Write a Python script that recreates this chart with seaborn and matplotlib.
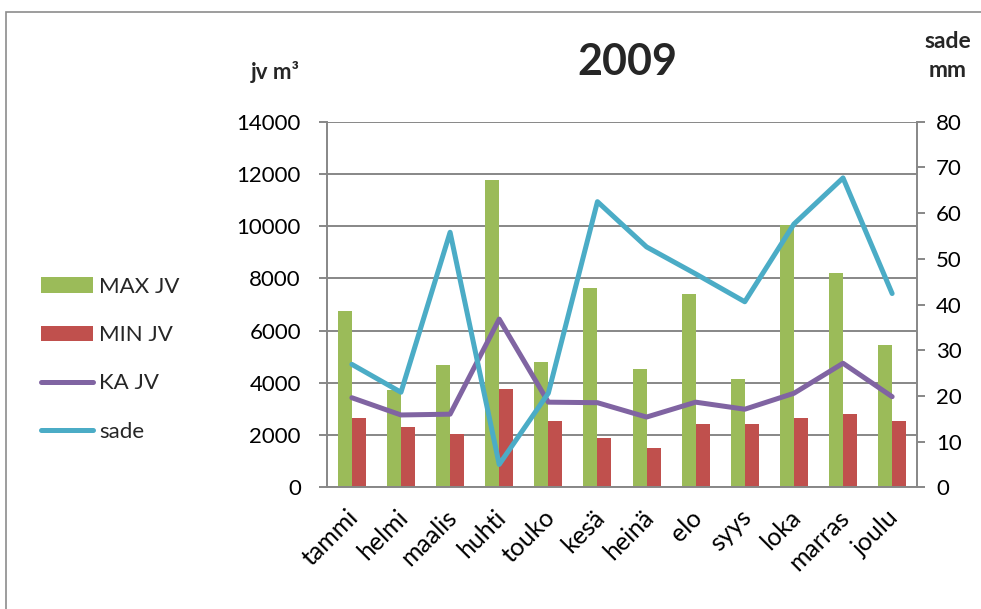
import numpy as np
import pandas as pd
import matplotlib
matplotlib.use("Agg")
import matplotlib.pyplot as plt
import matplotlib.transforms as mtransforms
import seaborn as sns
from matplotlib.patches import Rectangle, Patch
from matplotlib.lines import Line2D

months = ["tammi", "helmi", "maalis", "huhti", "touko", "kesä",
          "heinä", "elo", "syys", "loka", "marras", "joulu"]
max_jv = [6740, 3730, 4680, 11760, 4790, 7630, 4540, 7400, 4140, 10030, 8200, 5440]
min_jv = [2640, 2320, 2030, 3760, 2540, 1880, 1520, 2420, 2420, 2640, 2810, 2540]
ka_jv = [3430, 2770, 2800, 6440, 3260, 3240, 2690, 3260, 2990, 3600, 4750, 3470]
sade = [26.9, 20.8, 55.8, 5.0, 20.6, 62.5, 52.6, 46.7, 40.6, 57.6, 67.7, 42.4]
left_ticks = list(range(0, 14001, 2000))
right_ticks = list(range(0, 81, 10))

sns.set_theme(style="white")
plt.rcParams["font.family"] = ["Lato", "DejaVu Sans"]

GREEN = "#9BBB59"
RED = "#C0504D"
PURPLE = "#8064A2"
BLUE = "#4BACC6"
GRID = "#878787"
FS = 16
W, H = 981, 609

fig = plt.figure(figsize=(W / 100, H / 100), dpi=100)
ax = fig.add_axes([327.3 / W, 1 - 487.3 / H, (916.7 - 327.3) / W, 365.6 / H])

bars = pd.DataFrame({
    "kk": months * 2,
    "arvo": max_jv + min_jv,
    "sarja": ["MAX JV"] * 12 + ["MIN JV"] * 12,
})
sns.barplot(data=bars, x="kk", y="arvo", hue="sarja", order=months,
            hue_order=["MAX JV", "MIN JV"], palette=[GREEN, RED],
            width=0.57, linewidth=0, saturation=1, legend=False,
            ax=ax, zorder=2)

xpos = np.arange(len(months))
sns.lineplot(x=xpos, y=ka_jv, color=PURPLE, lw=3.6, ax=ax, zorder=3,
             solid_capstyle="round", solid_joinstyle="round")

ax.set_xlim(-0.5, 11.5)
ax.set_ylim(0, 14000)
ax.set_yticks(left_ticks)
ax.set_yticklabels([str(t) for t in left_ticks])
ax.grid(axis="y", color=GRID, lw=1.4)
ax.grid(axis="x", visible=False)
ax.set_axisbelow(True)
ax.set_xlabel("")
ax.set_ylabel("")

ax.set_xticks(xpos)
ax.set_xticklabels(months, rotation=45, ha="right", va="center",
                   rotation_mode="anchor")
ax.set_xticks(np.arange(-0.5, 12, 1), minor=True)
ax.tick_params(axis="x", which="major", length=0, pad=19, labelsize=18,
               labelcolor="black")
ax.tick_params(axis="x", which="minor", length=6, width=1.4, color=GRID,
               direction="out")
ax.tick_params(axis="y", length=6, width=1.4, color=GRID, direction="out",
               labelsize=FS, labelcolor="black", pad=13, left=True)
# nudge the slanted month names a little to the right
shift = mtransforms.ScaledTranslation(3 / 100, 0, fig.dpi_scale_trans)
for lab in ax.get_xticklabels():
    lab.set_transform(lab.get_transform() + shift)

for s in ["top", "right"]:
    ax.spines[s].set_visible(False)
for s in ["left", "bottom"]:
    ax.spines[s].set_color(GRID)
    ax.spines[s].set_linewidth(1.4)

ax2 = ax.twinx()
sns.lineplot(x=xpos, y=sade, color=BLUE, lw=3.6, ax=ax2, zorder=4,
             solid_capstyle="round", solid_joinstyle="round")
ax2.set_ylim(0, 80)
ax2.set_yticks(right_ticks)
ax2.set_yticklabels([str(t) for t in right_ticks])
ax2.grid(False)
ax2.set_ylabel("")
ax2.tick_params(axis="y", length=6, width=1.4, color=GRID, direction="out",
                labelsize=FS, labelcolor="black", pad=8, right=True)
for s in ["top", "left", "bottom"]:
    ax2.spines[s].set_visible(False)
ax2.spines["right"].set_color(GRID)
ax2.spines["right"].set_linewidth(1.4)

fig.text(627 / W, 1 - 62 / H, "2009", fontsize=31, fontweight="bold",
         ha="center", va="center")
fig.text(275 / W, 1 - 72 / H, "jv m³", fontsize=16, fontweight="bold",
         ha="center", va="center")
fig.text(948 / W, 1 - 56 / H, "sade\nmm", fontsize=16.5, fontweight="bold",
         ha="center", va="center", linespacing=1.45)

handles = [
    Patch(facecolor=GREEN, edgecolor="none"),
    Patch(facecolor=RED, edgecolor="none"),
    Line2D([0], [0], color=PURPLE, lw=3.6, solid_capstyle="round"),
    Line2D([0], [0], color=BLUE, lw=3.6, solid_capstyle="round"),
]
fig.legend(handles, ["MAX JV", "MIN JV", "KA JV", "sade"], loc="upper left",
           bbox_to_anchor=(32 / W, 1 - 268 / H), frameon=False, fontsize=FS,
           handlelength=2.35, handletextpad=0.28, labelspacing=1.27,
           borderaxespad=0)

fig.patches.append(Rectangle((6 / W, -0.1), 1.2, 1 - 12 / H + 0.1,
                             transform=fig.transFigure, fill=False,
                             edgecolor="#8c8c8c", lw=1.2))

fig.savefig("out.png", dpi=100)
